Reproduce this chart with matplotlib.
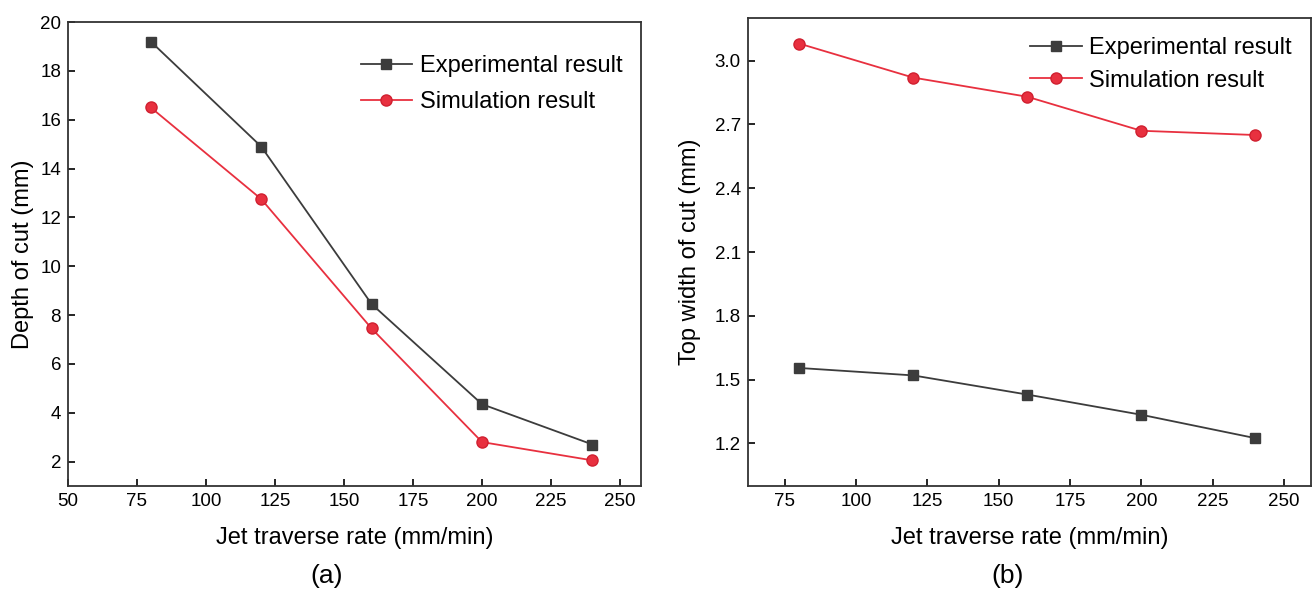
import matplotlib.pyplot as plt

plt.rcParams['font.family'] = ['Liberation Sans', 'DejaVu Sans']

rate = [80, 120, 160, 200, 240]

depth_exp = [19.2, 14.9, 8.45, 4.35, 2.7]
depth_sim = [16.5, 12.75, 7.45, 2.8, 2.05]

width_exp = [1.555, 1.52, 1.43, 1.335, 1.225]
width_sim = [3.08, 2.92, 2.83, 2.67, 2.65]

exp_color = '#3c3c3c'
sim_color = '#e8303f'

fig = plt.figure(figsize=(13.12, 5.93), dpi=100)
ax1 = fig.add_axes([0.0518, 0.1804, 0.4368, 0.7825])
ax2 = fig.add_axes([0.570, 0.1804, 0.4292, 0.7892])


def draw(ax, exp, sim, spacing, anchor):
    ax.plot(rate, exp, color=exp_color, marker='s', markersize=7, linewidth=1.3,
            label='Experimental result')
    ax.plot(rate, sim, color=sim_color, marker='o', markersize=8, linewidth=1.3,
            markeredgecolor='#d02030', label='Simulation result')
    ax.tick_params(direction='in', labelsize=13.5, length=5, width=1.2, pad=5,
                   top=False, right=False)
    for s in ax.spines.values():
        s.set_linewidth(1.3)
        s.set_color('#333333')
    ax.set_xlabel('Jet traverse rate (mm/min)', fontsize=17, labelpad=12)
    ax.legend(loc='upper right', bbox_to_anchor=anchor, frameon=False, fontsize=17,
              handlelength=2.2, handletextpad=0.3, labelspacing=spacing, borderaxespad=0.4)


#================(a) depth of cut================
draw(ax1, depth_exp, depth_sim, 0.6, (1.0, 0.97))
ax1.set_xlim(50, 257.6)
ax1.set_ylim(1, 20)
ax1.set_xticks([50, 75, 100, 125, 150, 175, 200, 225, 250])
ax1.set_yticks([2, 4, 6, 8, 10, 12, 14, 16, 18, 20])
ax1.set_ylabel('Depth of cut (mm)', fontsize=17, labelpad=4)

#================(b) top width of cut================
draw(ax2, width_exp, width_sim, 0.45, (1.0, 1.0))
ax2.set_xlim(62, 259.5)
ax2.set_ylim(1.0, 3.2)
ax2.set_xticks([75, 100, 125, 150, 175, 200, 225, 250])
ax2.set_yticks([1.2, 1.5, 1.8, 2.1, 2.4, 2.7, 3.0])
ax2.set_ylabel('Top width of cut (mm)', fontsize=17, labelpad=10)

fig.text(0.249, 0.028, '(a)', ha='center', va='center', fontsize=19)
fig.text(0.768, 0.028, '(b)', ha='center', va='center', fontsize=19)

fig.savefig('out.png', dpi=100)
